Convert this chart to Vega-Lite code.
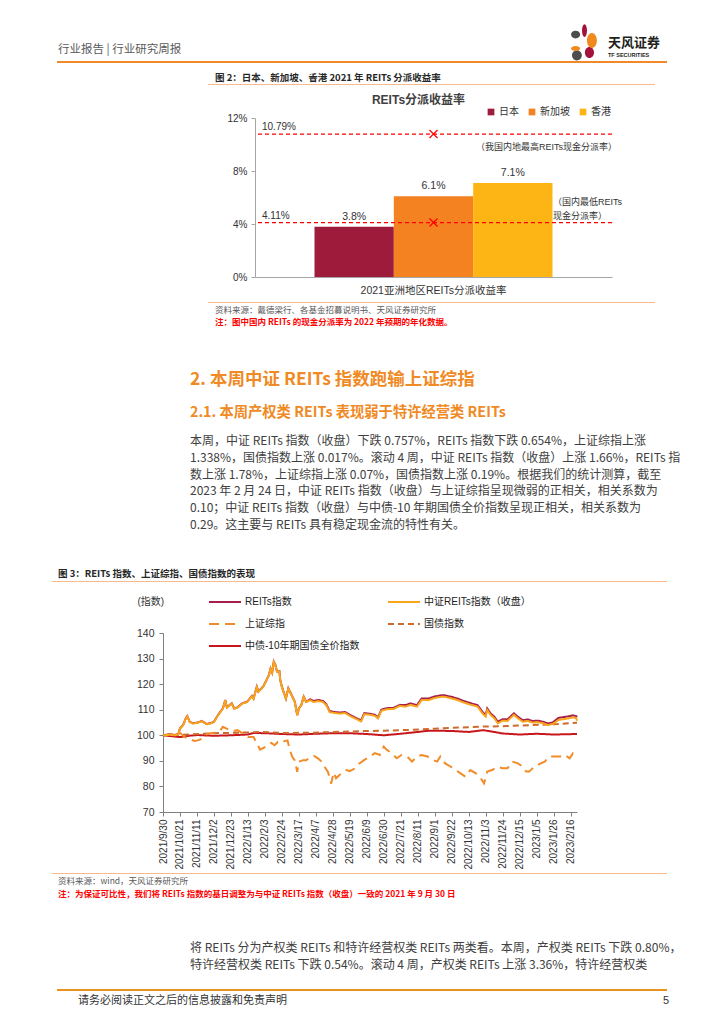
{
  "$schema": "https://vega.github.io/schema/vega-lite/v6.json",
  "background": "white",
  "padding": {"left": 52, "top": 23, "right": 0, "bottom": 0},
  "spacing": 0,
  "resolve": {"scale": {"color": "independent", "strokeDash": "independent"}, "legend": {"color": "independent", "strokeDash": "independent"}},
  "config": {
    "view": {"stroke": null},
    "font": "Liberation Sans, Noto Sans CJK SC, sans-serif",
    "title": {"font": "Noto Sans CJK SC, sans-serif", "anchor": "start", "frame": "group", "fontWeight": "normal"},
    "axis": {"labelFont": "Liberation Sans, Noto Sans CJK SC, sans-serif", "titleFont": "Liberation Sans, Noto Sans CJK SC, sans-serif"},
    "legend": {"labelFont": "Liberation Sans, Noto Sans CJK SC, sans-serif"}
  },
  "datasets": {
    "bars": [
      {"类别": "2021亚洲地区REITs分派收益率", "地区": "日本", "收益率": 0.038},
      {"类别": "2021亚洲地区REITs分派收益率", "地区": "新加坡", "收益率": 0.061},
      {"类别": "2021亚洲地区REITs分派收益率", "地区": "香港", "收益率": 0.071}
    ],
    "refs": [
      {"类别": "2021亚洲地区REITs分派收益率", "名称": "我国内地最高REITs现金分派率", "收益率": 0.1079},
      {"类别": "2021亚洲地区REITs分派收益率", "名称": "国内最低REITs现金分派率", "收益率": 0.0411}
    ],
    "series": [
      {"日期": "2021/9/30", "系列": "中债-10年期国债全价指数", "指数": 100},
      {"日期": "2021/10/12", "系列": "中债-10年期国债全价指数", "指数": 99.6},
      {"日期": "2021/10/21", "系列": "中债-10年期国债全价指数", "指数": 99.3},
      {"日期": "2021/11/1", "系列": "中债-10年期国债全价指数", "指数": 99.8},
      {"日期": "2021/11/11", "系列": "中债-10年期国债全价指数", "指数": 100.1},
      {"日期": "2021/12/2", "系列": "中债-10年期国债全价指数", "指数": 99.8},
      {"日期": "2021/12/23", "系列": "中债-10年期国债全价指数", "指数": 100.0},
      {"日期": "2022/1/13", "系列": "中债-10年期国债全价指数", "指数": 100.3},
      {"日期": "2022/1/20", "系列": "中债-10年期国债全价指数", "指数": 100.9},
      {"日期": "2022/2/5", "系列": "中债-10年期国债全价指数", "指数": 100.8},
      {"日期": "2022/2/24", "系列": "中债-10年期国债全价指数", "指数": 100.5},
      {"日期": "2022/3/17", "系列": "中债-10年期国债全价指数", "指数": 100.3},
      {"日期": "2022/4/7", "系列": "中债-10年期国债全价指数", "指数": 100.6},
      {"日期": "2022/4/28", "系列": "中债-10年期国债全价指数", "指数": 100.8},
      {"日期": "2022/5/19", "系列": "中债-10年期国债全价指数", "指数": 100.8},
      {"日期": "2022/6/9", "系列": "中债-10年期国债全价指数", "指数": 100.5},
      {"日期": "2022/6/30", "系列": "中债-10年期国债全价指数", "指数": 100.0},
      {"日期": "2022/7/21", "系列": "中债-10年期国债全价指数", "指数": 100.6},
      {"日期": "2022/8/11", "系列": "中债-10年期国债全价指数", "指数": 101.3},
      {"日期": "2022/8/25", "系列": "中债-10年期国债全价指数", "指数": 101.8},
      {"日期": "2022/9/22", "系列": "中债-10年期国债全价指数", "指数": 101.7},
      {"日期": "2022/10/13", "系列": "中债-10年期国债全价指数", "指数": 101.3},
      {"日期": "2022/10/31", "系列": "中债-10年期国债全价指数", "指数": 102.0},
      {"日期": "2022/11/10", "系列": "中债-10年期国债全价指数", "指数": 101.5},
      {"日期": "2022/11/24", "系列": "中债-10年期国债全价指数", "指数": 100.7},
      {"日期": "2022/12/15", "系列": "中债-10年期国债全价指数", "指数": 100.3},
      {"日期": "2023/1/5", "系列": "中债-10年期国债全价指数", "指数": 100.6},
      {"日期": "2023/1/26", "系列": "中债-10年期国债全价指数", "指数": 100.3},
      {"日期": "2023/2/24", "系列": "中债-10年期国债全价指数", "指数": 100.5},

      {"日期": "2021/9/30", "系列": "国债指数", "指数": 100},
      {"日期": "2021/10/31", "系列": "国债指数", "指数": 100.3},
      {"日期": "2021/11/30", "系列": "国债指数", "指数": 100.8},
      {"日期": "2021/12/31", "系列": "国债指数", "指数": 101.0},
      {"日期": "2022/1/31", "系列": "国债指数", "指数": 101.3},
      {"日期": "2022/2/28", "系列": "国债指数", "指数": 100.9},
      {"日期": "2022/3/31", "系列": "国债指数", "指数": 101.0},
      {"日期": "2022/4/30", "系列": "国债指数", "指数": 101.3},
      {"日期": "2022/5/31", "系列": "国债指数", "指数": 101.6},
      {"日期": "2022/6/30", "系列": "国债指数", "指数": 101.8},
      {"日期": "2022/7/31", "系列": "国债指数", "指数": 102.1},
      {"日期": "2022/8/31", "系列": "国债指数", "指数": 102.6},
      {"日期": "2022/9/30", "系列": "国债指数", "指数": 103.0},
      {"日期": "2022/10/31", "系列": "国债指数", "指数": 103.4},
      {"日期": "2022/11/30", "系列": "国债指数", "指数": 103.6},
      {"日期": "2022/12/31", "系列": "国债指数", "指数": 104.0},
      {"日期": "2023/1/31", "系列": "国债指数", "指数": 104.4},
      {"日期": "2023/2/24", "系列": "国债指数", "指数": 104.9},

      {"日期": "2021/9/30", "系列": "上证综指", "指数": 100},
      {"日期": "2021/10/8", "系列": "上证综指", "指数": 100.4},
      {"日期": "2021/10/14", "系列": "上证综指", "指数": 100.4},
      {"日期": "2021/10/19", "系列": "上证综指", "指数": 101.3},
      {"日期": "2021/10/22", "系列": "上证综指", "指数": 100.7},
      {"日期": "2021/10/27", "系列": "上证综指", "指数": 99.3},
      {"日期": "2021/11/2", "系列": "上证综指", "指数": 98.4},
      {"日期": "2021/11/8", "系列": "上证综指", "指数": 97.8},
      {"日期": "2021/11/12", "系列": "上证综指", "指数": 98.0},
      {"日期": "2021/11/18", "系列": "上证综指", "指数": 98.7},
      {"日期": "2021/11/23", "系列": "上证综指", "指数": 100.4},
      {"日期": "2021/11/29", "系列": "上证综指", "指数": 100.9},
      {"日期": "2021/12/6", "系列": "上证综指", "指数": 101.0},
      {"日期": "2021/12/10", "系列": "上证综指", "指数": 102.0},
      {"日期": "2021/12/13", "系列": "上证综指", "指数": 103.3},
      {"日期": "2021/12/20", "系列": "上证综指", "指数": 102.2},
      {"日期": "2021/12/26", "系列": "上证综指", "指数": 101.6},
      {"日期": "2021/12/31", "系列": "上证综指", "指数": 102.0},
      {"日期": "2022/1/7", "系列": "上证综指", "指数": 100.7},
      {"日期": "2022/1/13", "系列": "上证综指", "指数": 99.3},
      {"日期": "2022/1/20", "系列": "上证综指", "指数": 99.3},
      {"日期": "2022/1/24", "系列": "上证综指", "指数": 96.9},
      {"日期": "2022/1/28", "系列": "上证综指", "指数": 94.4},
      {"日期": "2022/2/3", "系列": "上证综指", "指数": 95.4},
      {"日期": "2022/2/7", "系列": "上证综指", "指数": 96.5},
      {"日期": "2022/2/11", "系列": "上证综指", "指数": 97.0},
      {"日期": "2022/2/15", "系列": "上证综指", "指数": 96.1},
      {"日期": "2022/2/19", "系列": "上证综指", "指数": 97.4},
      {"日期": "2022/2/23", "系列": "上证综指", "指数": 97.0},
      {"日期": "2022/2/27", "系列": "上证综指", "指数": 97.7},
      {"日期": "2022/3/3", "系列": "上证综指", "指数": 98.0},
      {"日期": "2022/3/6", "系列": "上证综指", "指数": 94.1},
      {"日期": "2022/3/9", "系列": "上证综指", "指数": 91.5},
      {"日期": "2022/3/12", "系列": "上证综指", "指数": 90.2},
      {"日期": "2022/3/15", "系列": "上证综指", "指数": 85.7},
      {"日期": "2022/3/17", "系列": "上证综指", "指数": 89.7},
      {"日期": "2022/3/22", "系列": "上证综指", "指数": 90.2},
      {"日期": "2022/3/26", "系列": "上证综指", "指数": 90.2},
      {"日期": "2022/3/31", "系列": "上证综指", "指数": 91.5},
      {"日期": "2022/4/5", "系列": "上证综指", "指数": 91.9},
      {"日期": "2022/4/10", "系列": "上证综指", "指数": 90.9},
      {"日期": "2022/4/14", "系列": "上证综指", "指数": 89.7},
      {"日期": "2022/4/18", "系列": "上证综指", "指数": 87.6},
      {"日期": "2022/4/22", "系列": "上证综指", "指数": 85.7},
      {"日期": "2022/4/26", "系列": "上证综指", "指数": 81.1},
      {"日期": "2022/4/29", "系列": "上证综指", "指数": 85.4},
      {"日期": "2022/5/2", "系列": "上证综指", "指数": 83.2},
      {"日期": "2022/5/7", "系列": "上证综指", "指数": 84.7},
      {"日期": "2022/5/11", "系列": "上证综指", "指数": 85.7},
      {"日期": "2022/5/15", "系列": "上证综指", "指数": 86.4},
      {"日期": "2022/5/19", "系列": "上证综指", "指数": 86.0},
      {"日期": "2022/5/25", "系列": "上证综指", "指数": 87.0},
      {"日期": "2022/5/31", "系列": "上证综指", "指数": 89.0},
      {"日期": "2022/6/6", "系列": "上证综指", "指数": 90.4},
      {"日期": "2022/6/13", "系列": "上证综指", "指数": 91.7},
      {"日期": "2022/6/19", "系列": "上证综指", "指数": 93.0},
      {"日期": "2022/6/25", "系列": "上证综指", "指数": 92.3},
      {"日期": "2022/6/30", "系列": "上证综指", "指数": 95.6},
      {"日期": "2022/7/3", "系列": "上证综指", "指数": 94.5},
      {"日期": "2022/7/10", "系列": "上证综指", "指数": 93.0},
      {"日期": "2022/7/16", "系列": "上证综指", "指数": 91.0},
      {"日期": "2022/7/22", "系列": "上证综指", "指数": 92.3},
      {"日期": "2022/7/29", "系列": "上证综指", "指数": 91.7},
      {"日期": "2022/8/4", "系列": "上证综指", "指数": 89.7},
      {"日期": "2022/8/10", "系列": "上证综指", "指数": 91.7},
      {"日期": "2022/8/16", "系列": "上证综指", "指数": 92.3},
      {"日期": "2022/8/23", "系列": "上证综指", "指数": 91.7},
      {"日期": "2022/8/29", "系列": "上证综指", "指数": 90.4},
      {"日期": "2022/9/4", "系列": "上证综指", "指数": 89.7},
      {"日期": "2022/9/8", "系列": "上证综指", "指数": 91.7},
      {"日期": "2022/9/14", "系列": "上证综指", "指数": 89.0},
      {"日期": "2022/9/21", "系列": "上证综指", "指数": 87.7},
      {"日期": "2022/9/27", "系列": "上证综指", "指数": 86.4},
      {"日期": "2022/10/3", "系列": "上证综指", "指数": 85.1},
      {"日期": "2022/10/9", "系列": "上证综指", "指数": 83.8},
      {"日期": "2022/10/15", "系列": "上证综指", "指数": 86.4},
      {"日期": "2022/10/22", "系列": "上证综指", "指数": 85.1},
      {"日期": "2022/10/28", "系列": "上证综指", "指数": 83.2},
      {"日期": "2022/11/1", "系列": "上证综指", "指数": 81.2},
      {"日期": "2022/11/5", "系列": "上证综指", "指数": 85.8},
      {"日期": "2022/11/11", "系列": "上证综指", "指数": 86.4},
      {"日期": "2022/11/18", "系列": "上证综指", "指数": 87.7},
      {"日期": "2022/11/24", "系列": "上证综指", "指数": 87.1},
      {"日期": "2022/11/30", "系列": "上证综指", "指数": 87.1},
      {"日期": "2022/12/6", "系列": "上证综指", "指数": 89.7},
      {"日期": "2022/12/13", "系列": "上证综指", "指数": 89.0},
      {"日期": "2022/12/19", "系列": "上证综指", "指数": 87.7},
      {"日期": "2022/12/23", "系列": "上证综指", "指数": 85.8},
      {"日期": "2022/12/27", "系列": "上证综指", "指数": 85.8},
      {"日期": "2023/1/2", "系列": "上证综指", "指数": 87.7},
      {"日期": "2023/1/9", "系列": "上证综指", "指数": 88.8},
      {"日期": "2023/1/15", "系列": "上证综指", "指数": 89.7},
      {"日期": "2023/1/21", "系列": "上证综指", "指数": 91.7},
      {"日期": "2023/1/27", "系列": "上证综指", "指数": 91.7},
      {"日期": "2023/2/3", "系列": "上证综指", "指数": 91.7},
      {"日期": "2023/2/9", "系列": "上证综指", "指数": 92.3},
      {"日期": "2023/2/15", "系列": "上证综指", "指数": 91.0},
      {"日期": "2023/2/19", "系列": "上证综指", "指数": 93.0},
      {"日期": "2023/2/23", "系列": "上证综指", "指数": 92.3},
      {"日期": "2023/2/24", "系列": "上证综指", "指数": 91.7},

      {"日期": "2021/9/30", "系列": "REITs指数", "指数": 100},
      {"日期": "2021/10/8", "系列": "REITs指数", "指数": 100.3},
      {"日期": "2021/10/15", "系列": "REITs指数", "指数": 100.1},
      {"日期": "2021/10/19", "系列": "REITs指数", "指数": 100.5},
      {"日期": "2021/10/21", "系列": "REITs指数", "指数": 102.7},
      {"日期": "2021/10/25", "系列": "REITs指数", "指数": 104.1},
      {"日期": "2021/10/28", "系列": "REITs指数", "指数": 106.5},
      {"日期": "2021/10/30", "系列": "REITs指数", "指数": 107.5},
      {"日期": "2021/11/2", "系列": "REITs指数", "指数": 105.3},
      {"日期": "2021/11/6", "系列": "REITs指数", "指数": 104.7},
      {"日期": "2021/11/11", "系列": "REITs指数", "指数": 104.9},
      {"日期": "2021/11/17", "系列": "REITs指数", "指数": 105.6},
      {"日期": "2021/11/23", "系列": "REITs指数", "指数": 104.4},
      {"日期": "2021/11/29", "系列": "REITs指数", "指数": 104.9},
      {"日期": "2021/12/2", "系列": "REITs指数", "指数": 105.3},
      {"日期": "2021/12/7", "系列": "REITs指数", "指数": 107.9},
      {"日期": "2021/12/13", "系列": "REITs指数", "指数": 110.5},
      {"日期": "2021/12/16", "系列": "REITs指数", "指数": 113.8},
      {"日期": "2021/12/18", "系列": "REITs指数", "指数": 110.9},
      {"日期": "2021/12/24", "系列": "REITs指数", "指数": 112.5},
      {"日期": "2021/12/27", "系列": "REITs指数", "指数": 110.5},
      {"日期": "2021/12/31", "系列": "REITs指数", "指数": 110.9},
      {"日期": "2022/1/6", "系列": "REITs指数", "指数": 112.5},
      {"日期": "2022/1/12", "系列": "REITs指数", "指数": 113.1},
      {"日期": "2022/1/18", "系列": "REITs指数", "指数": 115.4},
      {"日期": "2022/1/20", "系列": "REITs指数", "指数": 114.4},
      {"日期": "2022/1/24", "系列": "REITs指数", "指数": 119.0},
      {"日期": "2022/1/26", "系列": "REITs指数", "指数": 117.1},
      {"日期": "2022/2/1", "系列": "REITs指数", "指数": 119.1},
      {"日期": "2022/2/5", "系列": "REITs指数", "指数": 121.6},
      {"日期": "2022/2/8", "系列": "REITs指数", "指数": 123.6},
      {"日期": "2022/2/10", "系列": "REITs指数", "指数": 126.1},
      {"日期": "2022/2/12", "系列": "REITs指数", "指数": 124.5},
      {"日期": "2022/2/14", "系列": "REITs指数", "指数": 128.8},
      {"日期": "2022/2/16", "系列": "REITs指数", "指数": 127.5},
      {"日期": "2022/2/18", "系列": "REITs指数", "指数": 124.9},
      {"日期": "2022/2/21", "系列": "REITs指数", "指数": 125.1},
      {"日期": "2022/2/22", "系列": "REITs指数", "指数": 121.6},
      {"日期": "2022/2/24", "系列": "REITs指数", "指数": 119.0},
      {"日期": "2022/2/26", "系列": "REITs指数", "指数": 117.1},
      {"日期": "2022/3/1", "系列": "REITs指数", "指数": 114.4},
      {"日期": "2022/3/4", "系列": "REITs指数", "指数": 118.4},
      {"日期": "2022/3/6", "系列": "REITs指数", "指数": 117.1},
      {"日期": "2022/3/9", "系列": "REITs指数", "指数": 115.1},
      {"日期": "2022/3/12", "系列": "REITs指数", "指数": 113.1},
      {"日期": "2022/3/15", "系列": "REITs指数", "指数": 107.9},
      {"日期": "2022/3/17", "系列": "REITs指数", "指数": 110.5},
      {"日期": "2022/3/20", "系列": "REITs指数", "指数": 111.8},
      {"日期": "2022/3/23", "系列": "REITs指数", "指数": 115.1},
      {"日期": "2022/3/26", "系列": "REITs指数", "指数": 113.1},
      {"日期": "2022/3/31", "系列": "REITs指数", "指数": 114.1},
      {"日期": "2022/4/4", "系列": "REITs指数", "指数": 113.4},
      {"日期": "2022/4/10", "系列": "REITs指数", "指数": 113.8},
      {"日期": "2022/4/16", "系列": "REITs指数", "指数": 113.4},
      {"日期": "2022/4/20", "系列": "REITs指数", "指数": 112.1},
      {"日期": "2022/4/24", "系列": "REITs指数", "指数": 109.5},
      {"日期": "2022/4/30", "系列": "REITs指数", "指数": 109.1},
      {"日期": "2022/5/7", "系列": "REITs指数", "指数": 108.9},
      {"日期": "2022/5/13", "系列": "REITs指数", "指数": 109.1},
      {"日期": "2022/5/19", "系列": "REITs指数", "指数": 108.0},
      {"日期": "2022/5/26", "系列": "REITs指数", "指数": 106.9},
      {"日期": "2022/6/2", "系列": "REITs指数", "指数": 105.8},
      {"日期": "2022/6/6", "系列": "REITs指数", "指数": 108.7},
      {"日期": "2022/6/13", "系列": "REITs指数", "指数": 108.4},
      {"日期": "2022/6/19", "系列": "REITs指数", "指数": 108.0},
      {"日期": "2022/6/23", "系列": "REITs指数", "指数": 107.0},
      {"日期": "2022/6/27", "系列": "REITs指数", "指数": 110.0},
      {"日期": "2022/7/4", "系列": "REITs指数", "指数": 110.6},
      {"日期": "2022/7/12", "系列": "REITs指数", "指数": 110.7},
      {"日期": "2022/7/20", "系列": "REITs指数", "指数": 111.9},
      {"日期": "2022/7/27", "系列": "REITs指数", "指数": 111.8},
      {"日期": "2022/8/2", "系列": "REITs指数", "指数": 112.5},
      {"日期": "2022/8/10", "系列": "REITs指数", "指数": 111.8},
      {"日期": "2022/8/16", "系列": "REITs指数", "指数": 114.4},
      {"日期": "2022/8/25", "系列": "REITs指数", "指数": 114.4},
      {"日期": "2022/8/31", "系列": "REITs指数", "指数": 115.1},
      {"日期": "2022/9/6", "系列": "REITs指数", "指数": 115.5},
      {"日期": "2022/9/12", "系列": "REITs指数", "指数": 115.7},
      {"日期": "2022/9/21", "系列": "REITs指数", "指数": 115.1},
      {"日期": "2022/9/29", "系列": "REITs指数", "指数": 114.4},
      {"日期": "2022/10/7", "系列": "REITs指数", "指数": 113.4},
      {"日期": "2022/10/16", "系列": "REITs指数", "指数": 112.5},
      {"日期": "2022/10/24", "系列": "REITs指数", "指数": 111.8},
      {"日期": "2022/10/30", "系列": "REITs指数", "指数": 109.2},
      {"日期": "2022/11/3", "系列": "REITs指数", "指数": 107.9},
      {"日期": "2022/11/5", "系列": "REITs指数", "指数": 110.5},
      {"日期": "2022/11/9", "系列": "REITs指数", "指数": 108.6},
      {"日期": "2022/11/14", "系列": "REITs指数", "指数": 107.2},
      {"日期": "2022/11/18", "系列": "REITs指数", "指数": 105.3},
      {"日期": "2022/11/24", "系列": "REITs指数", "指数": 106.3},
      {"日期": "2022/11/30", "系列": "REITs指数", "指数": 106.2},
      {"日期": "2022/12/8", "系列": "REITs指数", "指数": 108.6},
      {"日期": "2022/12/13", "系列": "REITs指数", "指数": 107.2},
      {"日期": "2022/12/19", "系列": "REITs指数", "指数": 105.9},
      {"日期": "2022/12/25", "系列": "REITs指数", "指数": 106.2},
      {"日期": "2022/12/31", "系列": "REITs指数", "指数": 105.6},
      {"日期": "2023/1/7", "系列": "REITs指数", "指数": 105.7},
      {"日期": "2023/1/13", "系列": "REITs指数", "指数": 105.3},
      {"日期": "2023/1/19", "系列": "REITs指数", "指数": 104.6},
      {"日期": "2023/1/25", "系列": "REITs指数", "指数": 105.0},
      {"日期": "2023/2/1", "系列": "REITs指数", "指数": 106.8},
      {"日期": "2023/2/7", "系列": "REITs指数", "指数": 107.1},
      {"日期": "2023/2/13", "系列": "REITs指数", "指数": 107.4},
      {"日期": "2023/2/19", "系列": "REITs指数", "指数": 107.8},
      {"日期": "2023/2/23", "系列": "REITs指数", "指数": 107.5},
      {"日期": "2023/2/24", "系列": "REITs指数", "指数": 107.1},

      {"日期": "2021/9/30", "系列": "中证REITs指数（收盘）", "指数": 100},
      {"日期": "2021/10/8", "系列": "中证REITs指数（收盘）", "指数": 100.2},
      {"日期": "2021/10/15", "系列": "中证REITs指数（收盘）", "指数": 100.0},
      {"日期": "2021/10/19", "系列": "中证REITs指数（收盘）", "指数": 100.4},
      {"日期": "2021/10/21", "系列": "中证REITs指数（收盘）", "指数": 102.6},
      {"日期": "2021/10/25", "系列": "中证REITs指数（收盘）", "指数": 104.0},
      {"日期": "2021/10/28", "系列": "中证REITs指数（收盘）", "指数": 106.4},
      {"日期": "2021/10/30", "系列": "中证REITs指数（收盘）", "指数": 107.4},
      {"日期": "2021/11/2", "系列": "中证REITs指数（收盘）", "指数": 105.2},
      {"日期": "2021/11/6", "系列": "中证REITs指数（收盘）", "指数": 104.6},
      {"日期": "2021/11/11", "系列": "中证REITs指数（收盘）", "指数": 104.8},
      {"日期": "2021/11/17", "系列": "中证REITs指数（收盘）", "指数": 105.5},
      {"日期": "2021/11/23", "系列": "中证REITs指数（收盘）", "指数": 104.3},
      {"日期": "2021/11/29", "系列": "中证REITs指数（收盘）", "指数": 104.8},
      {"日期": "2021/12/2", "系列": "中证REITs指数（收盘）", "指数": 105.2},
      {"日期": "2021/12/7", "系列": "中证REITs指数（收盘）", "指数": 107.8},
      {"日期": "2021/12/13", "系列": "中证REITs指数（收盘）", "指数": 110.4},
      {"日期": "2021/12/16", "系列": "中证REITs指数（收盘）", "指数": 113.7},
      {"日期": "2021/12/18", "系列": "中证REITs指数（收盘）", "指数": 110.8},
      {"日期": "2021/12/24", "系列": "中证REITs指数（收盘）", "指数": 112.4},
      {"日期": "2021/12/27", "系列": "中证REITs指数（收盘）", "指数": 110.4},
      {"日期": "2021/12/31", "系列": "中证REITs指数（收盘）", "指数": 110.8},
      {"日期": "2022/1/6", "系列": "中证REITs指数（收盘）", "指数": 112.4},
      {"日期": "2022/1/12", "系列": "中证REITs指数（收盘）", "指数": 113.0},
      {"日期": "2022/1/18", "系列": "中证REITs指数（收盘）", "指数": 115.3},
      {"日期": "2022/1/20", "系列": "中证REITs指数（收盘）", "指数": 114.3},
      {"日期": "2022/1/24", "系列": "中证REITs指数（收盘）", "指数": 118.9},
      {"日期": "2022/1/26", "系列": "中证REITs指数（收盘）", "指数": 117.0},
      {"日期": "2022/2/1", "系列": "中证REITs指数（收盘）", "指数": 119.0},
      {"日期": "2022/2/5", "系列": "中证REITs指数（收盘）", "指数": 121.5},
      {"日期": "2022/2/8", "系列": "中证REITs指数（收盘）", "指数": 123.5},
      {"日期": "2022/2/10", "系列": "中证REITs指数（收盘）", "指数": 126.0},
      {"日期": "2022/2/12", "系列": "中证REITs指数（收盘）", "指数": 124.4},
      {"日期": "2022/2/14", "系列": "中证REITs指数（收盘）", "指数": 128.7},
      {"日期": "2022/2/16", "系列": "中证REITs指数（收盘）", "指数": 127.4},
      {"日期": "2022/2/18", "系列": "中证REITs指数（收盘）", "指数": 124.8},
      {"日期": "2022/2/21", "系列": "中证REITs指数（收盘）", "指数": 125.0},
      {"日期": "2022/2/22", "系列": "中证REITs指数（收盘）", "指数": 121.5},
      {"日期": "2022/2/24", "系列": "中证REITs指数（收盘）", "指数": 118.9},
      {"日期": "2022/2/26", "系列": "中证REITs指数（收盘）", "指数": 117.0},
      {"日期": "2022/3/1", "系列": "中证REITs指数（收盘）", "指数": 114.3},
      {"日期": "2022/3/4", "系列": "中证REITs指数（收盘）", "指数": 118.3},
      {"日期": "2022/3/6", "系列": "中证REITs指数（收盘）", "指数": 117.0},
      {"日期": "2022/3/9", "系列": "中证REITs指数（收盘）", "指数": 115.0},
      {"日期": "2022/3/12", "系列": "中证REITs指数（收盘）", "指数": 113.0},
      {"日期": "2022/3/15", "系列": "中证REITs指数（收盘）", "指数": 107.8},
      {"日期": "2022/3/17", "系列": "中证REITs指数（收盘）", "指数": 110.4},
      {"日期": "2022/3/20", "系列": "中证REITs指数（收盘）", "指数": 111.7},
      {"日期": "2022/3/23", "系列": "中证REITs指数（收盘）", "指数": 115.0},
      {"日期": "2022/3/26", "系列": "中证REITs指数（收盘）", "指数": 113.0},
      {"日期": "2022/3/31", "系列": "中证REITs指数（收盘）", "指数": 113.7},
      {"日期": "2022/4/4", "系列": "中证REITs指数（收盘）", "指数": 113.0},
      {"日期": "2022/4/10", "系列": "中证REITs指数（收盘）", "指数": 113.4},
      {"日期": "2022/4/16", "系列": "中证REITs指数（收盘）", "指数": 113.0},
      {"日期": "2022/4/20", "系列": "中证REITs指数（收盘）", "指数": 111.7},
      {"日期": "2022/4/24", "系列": "中证REITs指数（收盘）", "指数": 109.1},
      {"日期": "2022/4/30", "系列": "中证REITs指数（收盘）", "指数": 108.7},
      {"日期": "2022/5/7", "系列": "中证REITs指数（收盘）", "指数": 108.5},
      {"日期": "2022/5/13", "系列": "中证REITs指数（收盘）", "指数": 108.7},
      {"日期": "2022/5/19", "系列": "中证REITs指数（收盘）", "指数": 107.6},
      {"日期": "2022/5/26", "系列": "中证REITs指数（收盘）", "指数": 106.5},
      {"日期": "2022/6/2", "系列": "中证REITs指数（收盘）", "指数": 105.4},
      {"日期": "2022/6/6", "系列": "中证REITs指数（收盘）", "指数": 108.3},
      {"日期": "2022/6/13", "系列": "中证REITs指数（收盘）", "指数": 108.0},
      {"日期": "2022/6/19", "系列": "中证REITs指数（收盘）", "指数": 107.6},
      {"日期": "2022/6/23", "系列": "中证REITs指数（收盘）", "指数": 106.6},
      {"日期": "2022/6/27", "系列": "中证REITs指数（收盘）", "指数": 109.6},
      {"日期": "2022/7/4", "系列": "中证REITs指数（收盘）", "指数": 110.2},
      {"日期": "2022/7/12", "系列": "中证REITs指数（收盘）", "指数": 110.3},
      {"日期": "2022/7/20", "系列": "中证REITs指数（收盘）", "指数": 111.5},
      {"日期": "2022/7/27", "系列": "中证REITs指数（收盘）", "指数": 111.2},
      {"日期": "2022/8/2", "系列": "中证REITs指数（收盘）", "指数": 111.9},
      {"日期": "2022/8/10", "系列": "中证REITs指数（收盘）", "指数": 111.2},
      {"日期": "2022/8/16", "系列": "中证REITs指数（收盘）", "指数": 113.8},
      {"日期": "2022/8/25", "系列": "中证REITs指数（收盘）", "指数": 113.8},
      {"日期": "2022/8/31", "系列": "中证REITs指数（收盘）", "指数": 114.5},
      {"日期": "2022/9/6", "系列": "中证REITs指数（收盘）", "指数": 114.9},
      {"日期": "2022/9/12", "系列": "中证REITs指数（收盘）", "指数": 115.1},
      {"日期": "2022/9/21", "系列": "中证REITs指数（收盘）", "指数": 114.5},
      {"日期": "2022/9/29", "系列": "中证REITs指数（收盘）", "指数": 113.8},
      {"日期": "2022/10/7", "系列": "中证REITs指数（收盘）", "指数": 112.8},
      {"日期": "2022/10/16", "系列": "中证REITs指数（收盘）", "指数": 111.9},
      {"日期": "2022/10/24", "系列": "中证REITs指数（收盘）", "指数": 111.2},
      {"日期": "2022/10/30", "系列": "中证REITs指数（收盘）", "指数": 108.6},
      {"日期": "2022/11/3", "系列": "中证REITs指数（收盘）", "指数": 107.3},
      {"日期": "2022/11/5", "系列": "中证REITs指数（收盘）", "指数": 109.9},
      {"日期": "2022/11/9", "系列": "中证REITs指数（收盘）", "指数": 108.0},
      {"日期": "2022/11/14", "系列": "中证REITs指数（收盘）", "指数": 106.6},
      {"日期": "2022/11/18", "系列": "中证REITs指数（收盘）", "指数": 104.7},
      {"日期": "2022/11/24", "系列": "中证REITs指数（收盘）", "指数": 105.7},
      {"日期": "2022/11/30", "系列": "中证REITs指数（收盘）", "指数": 105.6},
      {"日期": "2022/12/8", "系列": "中证REITs指数（收盘）", "指数": 108.0},
      {"日期": "2022/12/13", "系列": "中证REITs指数（收盘）", "指数": 106.6},
      {"日期": "2022/12/19", "系列": "中证REITs指数（收盘）", "指数": 105.3},
      {"日期": "2022/12/25", "系列": "中证REITs指数（收盘）", "指数": 105.6},
      {"日期": "2022/12/31", "系列": "中证REITs指数（收盘）", "指数": 105.0},
      {"日期": "2023/1/7", "系列": "中证REITs指数（收盘）", "指数": 105.1},
      {"日期": "2023/1/13", "系列": "中证REITs指数（收盘）", "指数": 104.7},
      {"日期": "2023/1/19", "系列": "中证REITs指数（收盘）", "指数": 104.0},
      {"日期": "2023/1/25", "系列": "中证REITs指数（收盘）", "指数": 104.4},
      {"日期": "2023/2/1", "系列": "中证REITs指数（收盘）", "指数": 106.0},
      {"日期": "2023/2/7", "系列": "中证REITs指数（收盘）", "指数": 106.3},
      {"日期": "2023/2/13", "系列": "中证REITs指数（收盘）", "指数": 106.6},
      {"日期": "2023/2/19", "系列": "中证REITs指数（收盘）", "指数": 107.0},
      {"日期": "2023/2/23", "系列": "中证REITs指数（收盘）", "指数": 106.7},
      {"日期": "2023/2/24", "系列": "中证REITs指数（收盘）", "指数": 105.7}
    ]
  },
  "vconcat": [
    {
      "hconcat": [
        {"width": 512, "height": 21, "data": {"values": []}, "mark": "point",
         "title": {"text": "行业报告 | 行业研究周报", "orient": "bottom", "offset": 0, "dx": 6, "fontSize": 11.5, "color": "#595959"}},
        {"width": 38, "height": 38, "data": {"values": [{"标志": "天风证券"}]},
         "layer": [
           {"mark": {"type": "point", "shape": "M-0.05,-0.6a0.13,0.34 0 1,0 0.26,0a0.13,0.34 0 1,0 -0.26,0Z M0.1,0.55a0.24,0.29 0 1,0 0.48,0a0.24,0.29 0 1,0 -0.48,0Z", "filled": true, "color": "#A3123A", "size": 1444, "opacity": 1, "strokeWidth": 0}, "encoding": {}},
           {"mark": {"type": "point", "shape": "M-0.63,-0.39a0.24,0.2 0 1,0 0.48,0a0.24,0.2 0 1,0 -0.48,0Z M-0.58,0.7a0.26,0.27 0 1,0 0.52,0a0.26,0.27 0 1,0 -0.52,0Z", "filled": true, "color": "#4D4D4D", "size": 1444, "opacity": 1, "strokeWidth": 0}, "encoding": {}},
           {"mark": {"type": "point", "shape": "M0.21,-0.08a0.26,0.39 0 1,0 0.52,0a0.26,0.39 0 1,0 -0.52,0Z M-0.63,0.34a0.24,0.13 0 1,0 0.48,0a0.24,0.13 0 1,0 -0.48,0Z", "filled": true, "color": "#F08A1D", "size": 1444, "opacity": 1, "strokeWidth": 0}, "encoding": {}}
         ]},
        {"width": 60, "height": 38, "data": {"values": [{"标志": "天风证券", "英文": "TF SECURITIES"}]},
         "layer": [
           {"mark": {"type": "text", "align": "left", "baseline": "middle", "dx": -24, "dy": 1, "fontSize": 13, "fontWeight": "bold", "font": "Noto Sans CJK SC, sans-serif", "color": "#231F20"}, "encoding": {"text": {"field": "标志", "type": "nominal"}}},
           {"mark": {"type": "text", "align": "left", "baseline": "middle", "dx": -24, "dy": 13, "fontSize": 5.5, "fontWeight": "bold", "color": "#231F20"}, "encoding": {"text": {"field": "英文", "type": "nominal"}}}
         ]}
      ],
      "spacing": 0, "bounds": "flush"
    },
    {
      "hconcat": [
        {"width": 5, "height": 11, "data": {"values": []}, "mark": "point"},
        {"width": 610, "height": 2, "data": {"values": []}, "mark": "point", "view": {"fill": "#F0892A", "stroke": null}}
      ],
      "spacing": 0, "bounds": "flush"
    },
    {
      "hconcat": [
        {"width": 156, "height": 12, "data": {"values": []}, "mark": "point"},
        {"width": 447, "height": 1, "data": {"values": []}, "mark": "point",
         "title": {"text": "图 2：日本、新加坡、香港 2021 年 REITs 分派收益率", "orient": "bottom", "offset": 0, "dx": 7, "fontSize": 9.5, "fontWeight": "bold", "color": "#262626"}}
      ],
      "spacing": 0, "bounds": "flush"
    },
    {
      "hconcat": [
        {"width": 156, "height": 10, "data": {"values": []}, "mark": "point"},
        {"width": 447, "height": 1, "data": {"values": []}, "mark": "point", "view": {"fill": "#F6BA8C", "stroke": null}}
      ],
      "spacing": 0, "bounds": "flush"
    },
    {
      "hconcat": [
        {"width": 203, "height": 184, "data": {"values": []}, "mark": "point"},
        {
          "width": 357, "height": 159,
          "title": {"text": "REITs分派收益率", "orient": "top", "anchor": "middle", "frame": "group", "dx": -15, "offset": 0, "fontSize": 12, "fontWeight": "bold", "color": "#404040", "font": "Liberation Sans, Noto Sans CJK SC, sans-serif"},
          "layer": [
            {
              "data": {"name": "bars"},
              "mark": {"type": "bar"},
              "encoding": {
                "x": {"field": "类别", "type": "nominal", "scale": {"paddingInner": 0, "paddingOuter": 0.25},
                      "axis": {"title": null, "labelAngle": 0, "ticks": false, "domainColor": "#A6A6A6", "labelPadding": 8, "labelFontSize": 10.5, "labelColor": "#333333"}},
                "xOffset": {"field": "地区", "type": "nominal", "sort": ["日本", "新加坡", "香港"], "scale": {"paddingInner": 0, "paddingOuter": 0}},
                "y": {"field": "收益率", "type": "quantitative", "scale": {"domain": [0, 0.12], "nice": false},
                      "axis": {"title": null, "values": [0, 0.02, 0.04, 0.06, 0.08, 0.1, 0.12], "format": ".0%", "grid": false, "labelOverlap": false, "domainColor": "#A6A6A6", "tickColor": "#A6A6A6", "tickSize": 4, "labelPadding": 4, "labelFontSize": 10, "labelColor": "#333333"}},
                "color": {"field": "地区", "type": "nominal", "scale": {"domain": ["日本", "新加坡", "香港"], "range": ["#9E1B3C", "#F58220", "#FDB515"]},
                          "legend": {"title": null, "orient": "none", "legendX": 231, "legendY": -11, "direction": "horizontal", "symbolType": "square", "symbolSize": 45, "symbolStrokeWidth": 0, "labelFontSize": 10, "labelColor": "#333333", "labelOffset": 3, "columnPadding": 8, "padding": 0}}
              }
            },
            {
              "data": {"name": "bars"},
              "mark": {"type": "text", "baseline": "bottom", "dy": -5, "fontSize": 10.5, "color": "#333333"},
              "encoding": {
                "x": {"field": "类别", "type": "nominal"},
                "xOffset": {"field": "地区", "type": "nominal", "sort": ["日本", "新加坡", "香港"]},
                "y": {"field": "收益率", "type": "quantitative"},
                "text": {"field": "收益率", "type": "quantitative", "format": ".1%"}
              }
            },
            {
              "data": {"name": "refs"},
              "mark": {"type": "rule", "color": "#FF0000", "strokeDash": [4, 3], "strokeWidth": 1.2},
              "encoding": {"y": {"field": "收益率", "type": "quantitative"}}
            },
            {
              "data": {"name": "refs"},
              "mark": {"type": "point", "shape": "M-1,-1L1,1M1,-1L-1,1", "filled": false, "stroke": "#FF0000", "strokeWidth": 1.2, "size": 64, "opacity": 1},
              "encoding": {"x": {"field": "类别", "type": "nominal"}, "y": {"field": "收益率", "type": "quantitative"}}
            },
            {
              "data": {"name": "refs"},
              "mark": {"type": "text", "align": "left", "baseline": "bottom", "dx": 7, "dy": -2, "fontSize": 10, "color": "#333333"},
              "encoding": {"x": {"value": 0}, "y": {"field": "收益率", "type": "quantitative"}, "text": {"field": "收益率", "type": "quantitative", "format": ".2%"}}
            },
            {
              "data": {"name": "refs"},
              "transform": [{"filter": {"field": "名称", "equal": "我国内地最高REITs现金分派率"}}],
              "mark": {"type": "text", "align": "right", "baseline": "top", "dx": 5, "dy": 9, "fontSize": 9, "color": "#333333"},
              "encoding": {"x": {"value": "width"}, "y": {"field": "收益率", "type": "quantitative"}, "text": {"value": "（我国内地最高REITs现金分派率）"}}
            },
            {
              "data": {"name": "refs"},
              "transform": [{"filter": {"field": "名称", "equal": "国内最低REITs现金分派率"}}],
              "mark": {"type": "text", "align": "left", "baseline": "bottom", "dx": -59, "dy": -16, "fontSize": 9, "lineHeight": 14, "color": "#333333"},
              "encoding": {"x": {"value": "width"}, "y": {"field": "收益率", "type": "quantitative"}, "text": {"value": ["（国内最低REITs", "现金分派率）"]}}
            }
          ]
        }
      ],
      "spacing": 0, "bounds": "flush",
      "resolve": {"scale": {"color": "independent"}, "legend": {"color": "independent"}}
    },
    {
      "hconcat": [
        {"width": 156, "height": 28, "data": {"values": []}, "mark": "point"},
        {"width": 447, "height": 1, "data": {"values": []}, "mark": "point", "view": {"fill": "#F6BA8C", "stroke": null},
         "title": {"text": "资料来源：戴德梁行、各基金招募说明书、天风证券研究所", "subtitle": "注：图中国内 REITs 的现金分派率为 2022 年预期的年化数据。", "orient": "bottom", "offset": 3, "dx": 7, "fontSize": 8.5, "color": "#595959", "subtitleFont": "Noto Sans CJK SC, sans-serif", "subtitleFontSize": 8.5, "subtitleFontWeight": "bold", "subtitleColor": "#FF0000", "subtitlePadding": 3}}
      ],
      "spacing": 0, "bounds": "flush"
    },
    {
      "hconcat": [
        {"width": 138, "height": 100, "data": {"values": []}, "mark": "point"},
        {"width": 520, "height": 1, "data": {"values": []}, "mark": "point",
         "title": {"text": "2. 本周中证 REITs 指数跑输上证综指", "subtitle": "2.1. 本周产权类 REITs 表现弱于特许经营类 REITs", "orient": "bottom", "offset": 40, "fontSize": 17.5, "fontWeight": "bold", "color": "#F08A24", "subtitleFont": "Noto Sans CJK SC, sans-serif", "subtitleFontSize": 14.3, "subtitleFontWeight": "bold", "subtitleColor": "#F08A24", "subtitlePadding": 17}}
      ],
      "spacing": 0, "bounds": "flush"
    },
    {
      "hconcat": [
        {"width": 138, "height": 107, "data": {"values": []}, "mark": "point"},
        {"width": 520, "height": 1, "data": {"values": []}, "mark": "point",
         "title": {"text": [
           "本周，中证 REITs 指数（收盘）下跌 0.757%，REITs 指数下跌 0.654%，上证综指上涨",
           "1.338%，国债指数上涨 0.017%。滚动 4 周，中证 REITs 指数（收盘）上涨 1.66%，REITs 指",
           "数上涨 1.78%，上证综指上涨 0.07%，国债指数上涨 0.19%。根据我们的统计测算，截至",
           "2023 年 2 月 24 日，中证 REITs 指数（收盘）与上证综指呈现微弱的正相关，相关系数为",
           "0.10；中证 REITs 指数（收盘）与中债-10 年期国债全价指数呈现正相关，相关系数为",
           "0.29。这主要与 REITs 具有稳定现金流的特性有关。"
         ], "orient": "bottom", "offset": 5, "fontSize": 12, "lineHeight": 16.8, "color": "#404040"}}
      ],
      "spacing": 0, "bounds": "flush"
    },
    {
      "hconcat": [
        {"width": 6, "height": 44, "data": {"values": []}, "mark": "point"},
        {"width": 600, "height": 1, "data": {"values": []}, "mark": "point",
         "title": {"text": "图 3：REITs 指数、上证综指、国债指数的表现", "orient": "bottom", "offset": 31, "fontSize": 9.5, "fontWeight": "bold", "color": "#262626"}}
      ],
      "spacing": 0, "bounds": "flush"
    },
    {
      "hconcat": [
        {"width": 615, "height": 1, "data": {"values": []}, "mark": "point", "view": {"fill": "#F6BA8C", "stroke": null}},
        {"width": 1, "height": 4, "data": {"values": []}, "mark": "point"}
      ],
      "spacing": 0, "bounds": "flush"
    },
    {
      "hconcat": [
        {"width": 111, "height": 240, "data": {"values": []}, "mark": "point"},
        {
          "width": 414, "height": 179,
          "data": {"name": "series"},
          "mark": {"type": "line", "strokeWidth": 2},
          "encoding": {
            "x": {"field": "日期", "type": "temporal",
                  "scale": {"domain": [{"year": 2021, "month": 9, "date": 30}, {"year": 2023, "month": 2, "date": 24}]},
                  "axis": {"title": null, "grid": false, "format": "%Y/%-m/%-d", "labelAngle": -90, "labelFontSize": 10, "labelColor": "#333333", "tickSize": 4, "labelPadding": 3, "domainColor": "#808080", "tickColor": "#808080", "labelOverlap": false, "labelFlush": false,
                           "values": [
                             {"year": 2021, "month": 9, "date": 30}, {"year": 2021, "month": 10, "date": 21}, {"year": 2021, "month": 11, "date": 11},
                             {"year": 2021, "month": 12, "date": 2}, {"year": 2021, "month": 12, "date": 23}, {"year": 2022, "month": 1, "date": 13},
                             {"year": 2022, "month": 2, "date": 3}, {"year": 2022, "month": 2, "date": 24}, {"year": 2022, "month": 3, "date": 17},
                             {"year": 2022, "month": 4, "date": 7}, {"year": 2022, "month": 4, "date": 28}, {"year": 2022, "month": 5, "date": 19},
                             {"year": 2022, "month": 6, "date": 9}, {"year": 2022, "month": 6, "date": 30}, {"year": 2022, "month": 7, "date": 21},
                             {"year": 2022, "month": 8, "date": 11}, {"year": 2022, "month": 9, "date": 1}, {"year": 2022, "month": 9, "date": 22},
                             {"year": 2022, "month": 10, "date": 13}, {"year": 2022, "month": 11, "date": 3}, {"year": 2022, "month": 11, "date": 24},
                             {"year": 2022, "month": 12, "date": 15}, {"year": 2023, "month": 1, "date": 5}, {"year": 2023, "month": 1, "date": 26},
                             {"year": 2023, "month": 2, "date": 16}
                           ]}},
            "y": {"field": "指数", "type": "quantitative", "scale": {"domain": [70, 140], "zero": false, "nice": false},
                  "axis": {"values": [70, 80, 90, 100, 110, 120, 130, 140], "grid": false, "labelOverlap": false, "labelFontSize": 10.5, "labelColor": "#333333", "tickSize": 4, "labelPadding": 5, "domainColor": "#808080", "tickColor": "#808080",
                           "title": "(指数)", "titleAngle": 0, "titleX": -26, "titleY": -32, "titleAlign": "left", "titleBaseline": "middle", "titleFontSize": 10, "titleFontWeight": "normal", "titleColor": "#333333"}},
            "color": {"field": "系列", "type": "nominal",
                      "scale": {"domain": ["REITs指数", "中证REITs指数（收盘）", "上证综指", "国债指数", "中债-10年期国债全价指数"], "range": ["#A61E4D", "#F8A51B", "#F28C28", "#CD6A2C", "#C8161D"]},
                      "legend": {"title": null, "orient": "none", "legendX": 45, "legendY": -48, "columns": 2, "direction": "horizontal", "symbolType": "stroke", "symbolSize": 1024, "symbolStrokeWidth": 2, "labelFontSize": 10, "labelColor": "#222222", "labelOffset": 3, "columnPadding": 24, "rowPadding": -11, "padding": 0}},
            "strokeDash": {"field": "系列", "type": "nominal",
                      "scale": {"domain": ["REITs指数", "中证REITs指数（收盘）", "上证综指", "国债指数", "中债-10年期国债全价指数"], "range": [[1, 0], [1, 0], [10, 6], [6, 4], [1, 0]]},
                      "legend": {"title": null, "orient": "none", "legendX": 45, "legendY": -48, "columns": 2, "direction": "horizontal", "symbolType": "stroke", "symbolSize": 1024, "symbolStrokeWidth": 2, "labelFontSize": 10, "labelColor": "#222222", "labelOffset": 3, "columnPadding": 24, "rowPadding": -11, "padding": 0}}
          }
        }
      ],
      "spacing": 0, "bounds": "flush",
      "resolve": {"scale": {"color": "independent", "strokeDash": "independent"}, "legend": {"color": "independent", "strokeDash": "independent"}}
    },
    {
      "hconcat": [
        {"width": 615, "height": 1, "data": {"values": []}, "mark": "point", "view": {"fill": "#F6BA8C", "stroke": null},
         "title": {"text": "资料来源：wind，天风证券研究所", "subtitle": "注：为保证可比性，我们将 REITs 指数的基日调整为与中证 REITs 指数（收盘）一致的 2021 年 9 月 30 日", "orient": "bottom", "offset": 3, "dx": 6, "fontSize": 8.5, "color": "#595959", "subtitleFont": "Noto Sans CJK SC, sans-serif", "subtitleFontSize": 8.5, "subtitleFontWeight": "bold", "subtitleColor": "#FF0000", "subtitlePadding": 4}},
        {"width": 1, "height": 44, "data": {"values": []}, "mark": "point"}
      ],
      "spacing": 0, "bounds": "flush"
    },
    {
      "hconcat": [
        {"width": 138, "height": 72, "data": {"values": []}, "mark": "point"},
        {"width": 520, "height": 1, "data": {"values": []}, "mark": "point",
         "title": {"text": [
           "将 REITs 分为产权类 REITs 和特许经营权类 REITs 两类看。本周，产权类 REITs 下跌 0.80%，",
           "特许经营权类 REITs 下跌 0.54%。滚动 4 周，产权类 REITs 上涨 3.36%，特许经营权类"
         ], "orient": "bottom", "offset": 25, "fontSize": 12, "lineHeight": 16.8, "color": "#404040"}}
      ],
      "spacing": 0, "bounds": "flush"
    },
    {
      "hconcat": [
        {"width": 5, "height": 30, "data": {"values": []}, "mark": "point"},
        {"width": 610, "height": 2, "data": {"values": []}, "mark": "point", "view": {"fill": "#E8931E", "stroke": null},
         "title": {"text": "请务必阅读正文之后的信息披露和免责声明", "orient": "bottom", "offset": 4, "dx": 21, "fontSize": 11, "color": "#333333"}},
        {"width": 10, "height": 1, "data": {"values": []}, "mark": "point",
         "title": {"text": "5", "orient": "bottom", "offset": 5, "dx": -4, "fontSize": 11, "color": "#333333", "font": "Liberation Sans, sans-serif"}}
      ],
      "spacing": 0, "bounds": "flush"
    }
  ]
}
